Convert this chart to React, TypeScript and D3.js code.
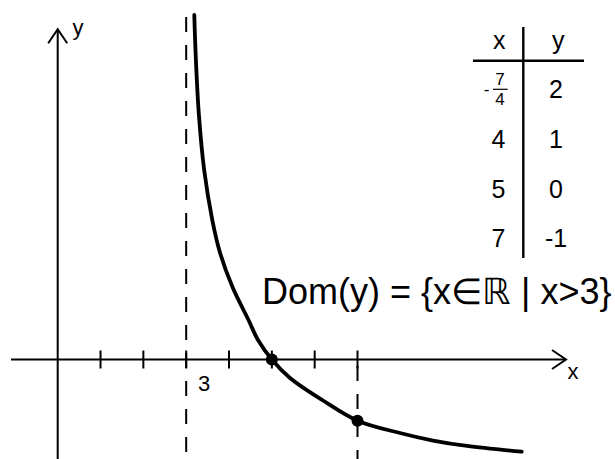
import React from "react";
import * as d3 from "d3";

// Curve samples (x, y) in graph units
const curveX = [3.189, 3.227, 3.297, 3.42, 3.61, 3.792, 4.081, 4.455, 4.677, 5, 5.424, 6.194, 7, 7.992, 8.763, 9.557, 10.834];
const curveY = [5.629, 4.894, 3.995, 3.096, 2.279, 1.74, 1.185, 0.645, 0.319, 0, -0.302, -0.67, -1, -1.201, -1.324, -1.413, -1.507];

// Highlighted points on the curve
const pointX = [5, 7];
const pointY = [0, -1];

// x-axis ticks and the vertical asymptote
const xTicks = [1, 2, 3, 4, 5, 6, 7];
const asymptote = 3;
const guideX = 7;

// Value table
const tableX = ["-7/4", "4", "5", "7"];
const tableY = ["2", "1", "0", "-1"];

const FONT = "'Liberation Sans', Arial, Helvetica, sans-serif";

export default function App() {
  const W = 615;
  const H = 459;
  const x = d3.scaleLinear().domain([0, 7]).range([57.7, 357.5]);
  const y = d3.scaleLinear().domain([0, -1]).range([359.5, 420.7]);

  const pts: [number, number][] = curveX.map((v, i) => [v, curveY[i]]);
  const line = d3
    .line<[number, number]>()
    .x((d) => x(d[0]))
    .y((d) => y(d[1]))
    .curve(d3.curveCatmullRom.alpha(0.5));

  const x0 = x(0);
  const y0 = y(0);
  const axisRight = 566;
  const axisTop = 29.3;

  const rowBase = [98.3, 148.3, 198.3, 247.3];
  const colX = 498.5;
  const colY = 556;

  return (
    <svg
      width={W}
      height={H}
      viewBox={`0 0 ${W} ${H}`}
      style={{ position: "absolute", left: 0, top: 0, background: "#fff" }}
    >
      <rect width={W} height={H} fill="#fff" />
      <g stroke="#000" strokeWidth={2} fill="none">
        {/* axes */}
        <line x1={11} y1={y0} x2={axisRight} y2={y0} />
        <line x1={x0} y1={H} x2={x0} y2={axisTop} />
        <polyline points={`${axisRight - 14},${y0 - 9.5} ${axisRight},${y0} ${axisRight - 14},${y0 + 9.5}`} />
        <polyline points={`${x0 - 9.5},${axisTop + 14} ${x0},${axisTop} ${x0 + 9.5},${axisTop + 14}`} />
        {/* ticks */}
        {xTicks.map((t) => (
          <line key={t} x1={x(t)} x2={x(t)} y1={y0 - 9} y2={y0 + 9} />
        ))}
        {/* asymptote and guide */}
        <line x1={x(asymptote)} x2={x(asymptote)} y1={17} y2={H} strokeDasharray="15 13" />
        <line x1={x(guideX)} x2={x(guideX)} y1={y0 + 6.5} y2={H} strokeDasharray="15 13" />
        {/* table rules */}
        <line x1={523.3} x2={523.3} y1={27} y2={258} strokeWidth={2.4} />
        <line x1={473} x2={584} y1={60.7} y2={60.7} strokeWidth={2.4} />
      </g>

      <path d={line(pts) ?? ""} fill="none" stroke="#000" strokeWidth={3.8} strokeLinecap="round" />

      {pointX.map((px, i) => (
        <circle key={i} cx={x(px)} cy={y(pointY[i])} r={6} fill="#000" />
      ))}

      <g fontFamily={FONT} fill="#000">
        <text x={573} y={379} fontSize={22} textAnchor="middle">x</text>
        <text x={78} y={35} fontSize={22} textAnchor="middle">y</text>
        <text x={204} y={391} fontSize={22} textAnchor="middle">3</text>

        <text x={499.3} y={49.3} fontSize={25} textAnchor="middle">x</text>
        <text x={558.3} y={49.3} fontSize={25} textAnchor="middle">y</text>

        {tableX.map((t, i) =>
          t.includes("/") ? (
            <g key={t}>
              <text x={486.7} y={95} fontSize={17} textAnchor="middle">-</text>
              <text x={500} y={85} fontSize={17} textAnchor="middle">{t.split("/")[0].replace("-", "")}</text>
              <line x1={493} x2={507.7} y1={89.3} y2={89.3} stroke="#000" strokeWidth={1.2} />
              <text x={500} y={105} fontSize={17} textAnchor="middle">{t.split("/")[1]}</text>
            </g>
          ) : (
            <text key={t} x={colX} y={rowBase[i]} fontSize={25} textAnchor="middle">{t}</text>
          )
        )}
        {tableY.map((t, i) => (
          <text key={t} x={colY} y={rowBase[i]} fontSize={25} textAnchor="middle">{t}</text>
        ))}

        <text x={262} y={304} fontSize={36}>Dom(y) = {"{"}x∈ℝ | x&gt;3{"}"}</text>
      </g>
    </svg>
  );
}
